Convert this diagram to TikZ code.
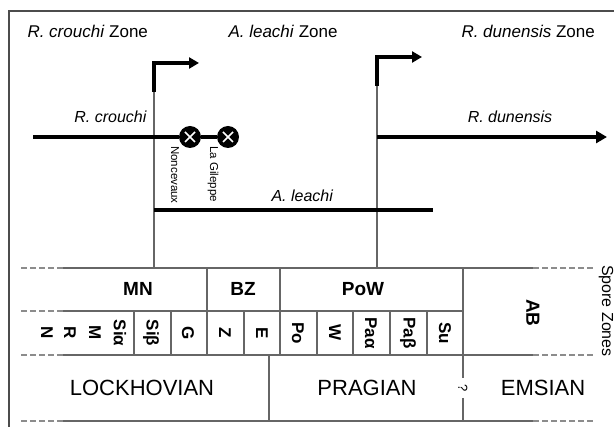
\documentclass[tikz,border=0pt]{standalone}
\usepackage{fontspec}
\setmainfont{Liberation Sans}
\usetikzlibrary{arrows.meta}
\tikzset{
  taxonrange/.style={line width=4.5pt, black},
  zonearrow/.style={line width=3.5pt, black, line join=miter, -{Triangle[length=10pt,width=11pt]}},
  guideline/.style={line width=1.2pt, black!60},
  chartrule/.style={line width=1.2pt, black!60},
  chartext/.style={chartrule, black!45, dash pattern=on 6pt off 3pt},
  zonelbl/.style={font=\fontsize{17}{20}\selectfont, anchor=west},
  taxlbl/.style={font=\fontsize{16}{19}\selectfont\itshape},
  sporelbl/.style={font=\fontsize{19}{22}\selectfont\bfseries},
  sublbl/.style={font=\fontsize{17}{20}\selectfont\bfseries, rotate=-90, inner sep=0pt},
  stagelbl/.style={font=\fontsize{22}{26}\selectfont},
  loclbl/.style={font=\fontsize{11.5}{13}\selectfont, rotate=-90, anchor=west, inner sep=0pt},
  extinct/.style={circle, fill=black, minimum size=22pt, inner sep=0pt,
    path picture={
      \draw[white, line width=1.6pt]
        ([xshift=-5pt,yshift=-5pt]path picture bounding box.center) --
        ([xshift=5pt,yshift=5pt]path picture bounding box.center)
        ([xshift=-5pt,yshift=5pt]path picture bounding box.center) --
        ([xshift=5pt,yshift=-5pt]path picture bounding box.center);
    }},
}
\begin{document}
\begin{tikzpicture}[x=1pt, y=-1pt]
  \useasboundingbox (0,0) rectangle (614,427);
  % frame
  \draw[line width=1.2pt, black!70] (9,427) -- (9,11) -- (614,11);

  % biozone names
  \node[zonelbl] (zcrouchi) at (24,31) {\textit{R. crouchi} Zone};
  \node[zonelbl] (zleachi) at (225,31) {\textit{A. leachi} Zone};
  \node[zonelbl] (zdunensis) at (458,31) {\textit{R. dunensis} Zone};

  % zone boundaries
  \coordinate (b1foot) at (154,268);
  \coordinate (b1knee) at (154,92);
  \coordinate (b1top) at (154,63);
  \coordinate (b1tip) at (199,63);
  \coordinate (b2foot) at (377,268);
  \coordinate (b2knee) at (377,86);
  \coordinate (b2top) at (377,57);
  \coordinate (b2tip) at (422,57);
  \draw[guideline] (b1foot) -- (b1knee);
  \draw[zonearrow] (b1knee) -- (b1top) -- (b1tip);
  \draw[guideline] (b2foot) -- (b2knee);
  \draw[zonearrow] (b2knee) -- (b2top) -- (b2tip);

  % ranges
  \node[extinct] (noncevaux) at (190,137) {};
  \node[extinct] (gileppe) at (228,137) {};
  \coordinate (crstart) at (33,137);
  \draw[taxonrange] (crstart) -- (noncevaux);
  \draw[taxonrange] (noncevaux) -- (gileppe);
  \node[taxlbl, anchor=east] (tcrouchi) at (150,117) {R. crouchi};
  \node[loclbl] (lnoncevaux) at (175,146) {Noncevaux};
  \node[loclbl] (lgileppe) at (213,146) {La Gileppe};

  \coordinate (dustart) at (377,137);
  \coordinate (duend) at (607,137);
  \draw[taxonrange, -{Triangle[length=11pt,width=12pt]}] (dustart) -- (duend);
  \node[taxlbl] (tdunensis) at (510,117) {R. dunensis};

  \coordinate (lestart) at (154,210);
  \coordinate (leend) at (433,210);
  \draw[taxonrange] (lestart) -- (leend);
  \node[taxlbl, anchor=west] (tleachi) at (268,196) {A. leachi};

  % chart rules
  \draw[chartrule] (63,268) -- (533,268);
  \draw[chartrule] (63,311) -- (463,311);
  \draw[chartrule] (63,355) -- (533,355);
  \draw[chartrule] (63,421) -- (533,421);
  \foreach \y in {268,311,355,421}
    \draw[chartext] (21,\y) -- (63,\y);
  \foreach \y in {268,355,421}
    \draw[chartext] (533,\y) -- (593,\y);
  \foreach \x in {207,280}
    \draw[chartrule] (\x,268) -- (\x,311);
  \foreach \x in {134,171,207,244,280,317,353,390,427}
    \draw[chartrule] (\x,311) -- (\x,355);
  \draw[chartrule] (463,268) -- (463,378);
  \draw[chartrule] (463,398) -- (463,421);
  \draw[chartrule] (269,355) -- (269,421);

  % spore zones
  \node[sporelbl] (mn) at (138,289) {MN};
  \node[sporelbl] (bz) at (243,289) {BZ};
  \node[sporelbl] (pow) at (363,289) {PoW};
  \node[sporelbl, rotate=-90] (ab) at (533,313) {AB};
  \foreach \x/\t [count=\i] in {47/N,70/R,95/M,120/Siα,151/Siβ,188/G,225/Z,262/E,298/Po,335/W,371/Paα,408/Paβ,445/Su}
    \node[sublbl] (sub\i) at (\x,333) {\t};
  \node[font=\fontsize{16}{19}\selectfont, rotate=-90] (spore) at (606,311) {Spore Zones};

  % stages
  \node[stagelbl] (lochkov) at (142,388) {LOCKHOVIAN};
  \node[stagelbl] (prag) at (367,388) {PRAGIAN};
  \node[stagelbl] (ems) at (543,388) {EMSIAN};
  \node[font=\fontsize{13}{15}\selectfont, rotate=-90, inner sep=0pt] (query) at (463,388) {?};
\end{tikzpicture}
\end{document}
